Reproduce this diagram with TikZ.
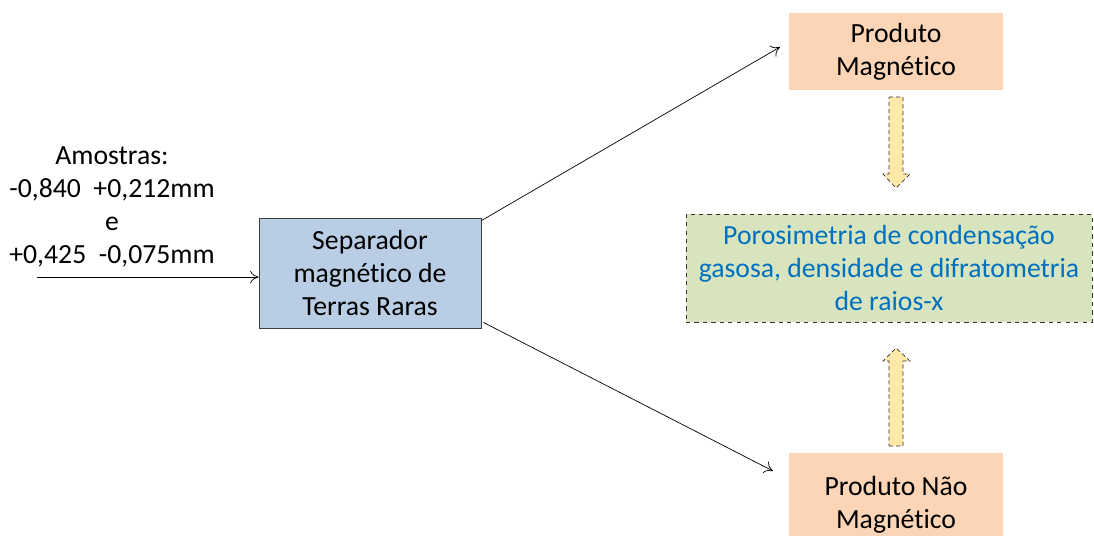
\documentclass[tikz,border=0pt]{standalone}
\usepackage{fontspec}
\setmainfont[Ligatures={NoCommon}]{Carlito}
\usetikzlibrary{arrows.meta,calc}
\definecolor{sepfill}{HTML}{B9CDE5}
\definecolor{sepdraw}{HTML}{3F3F3F}
\definecolor{prodfill}{HTML}{FBD5B5}
\definecolor{greenfill}{HTML}{D7E4BD}
\definecolor{bluetext}{HTML}{0070C0}
\definecolor{yellowfill}{HTML}{FFE9A8}
\tikzset{
  px/.style={x=0.025cm,y=-0.025cm},
  txt/.style={font=\fontsize{19.7}{23.4}\selectfont, align=center, inner sep=0pt},
  sepbox/.style={txt, draw=sepdraw, fill=sepfill, line width=0.6pt},
  prodbox/.style={txt, fill=prodfill},
  greenbox/.style={txt, draw=black!80, dashed, fill=greenfill, text=bluetext, line width=0.6pt},
  conn/.style={-{To[length=6pt,width=9pt]}, line width=0.5pt},
  blockarrow/.style={draw=black!80, densely dashed, fill=yellowfill, line width=0.5pt},
}
\begin{document}
\begin{tikzpicture}[px]
\useasboundingbox (0,0) rectangle (1094,535);
% boxes
\node[sepbox, minimum width=222*0.025cm, minimum height=110*0.025cm] (sep) at (370,273)
  {Separador\\magnético de\\Terras Raras};
\node[prodbox, minimum width=214*0.025cm, minimum height=77*0.025cm] (pm) at (896,51.5)
  {Produto\\Magnético};
\node[prodbox, minimum width=214*0.025cm, minimum height=104*0.025cm] (pnm) at (896,505)
  {Produto Não\\Magnético};
\node[greenbox, minimum width=406*0.025cm, minimum height=108*0.025cm] (green) at (889,268)
  {Porosimetria de condensação\\gasosa, densidade e difratometria\\de raios-x};
% sample text
\node[txt] (amostras) at (112,207) {Amostras:\\-0,840~~+0,212mm\\e\\+0,425~~-0,075mm};
% connectors
\coordinate (in) at (37,277);
\draw[conn] (in) -- (sep.west |- in);
\coordinate (tipup) at (780,47);
\coordinate (tipdown) at (773,471);
\draw[conn] ($(sep.north east)+(0,3)$) -- (tipup);
\draw[conn] ($(sep.south east)+(2,-6)$) -- (tipdown);
% block arrows
\draw[blockarrow] (889,97) -- (903,97) -- (903,174) -- (910,174) -- (896,188) -- (883,174) -- (889,174) -- cycle;
\draw[blockarrow] (889,446) -- (903,446) -- (903,361) -- (910,361) -- (896,348) -- (883,361) -- (889,361) -- cycle;
\end{tikzpicture}
\end{document}
